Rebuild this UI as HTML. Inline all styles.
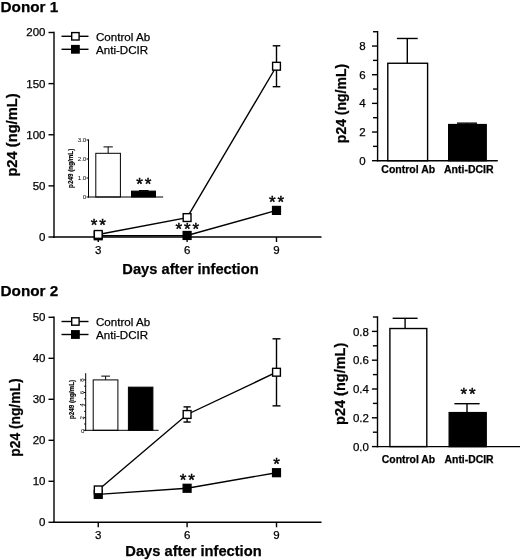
<!DOCTYPE html>
<html><head><meta charset="utf-8"><title>Figure</title>
<style>
html,body{margin:0;padding:0;background:#fff;}
svg{display:block;font-family:"Liberation Sans",sans-serif;fill:#000;}
text.r{stroke:#000;stroke-width:0.25px;}
text.b{font-weight:bold;stroke:#000;stroke-width:0.25px;}
text.s{stroke:#000;stroke-width:0.45px;}
text.t{fill:#000;}
text.tb{font-weight:bold;stroke:#000;stroke-width:0.15px;}
</style></head><body>
<svg width="520" height="560" viewBox="0 0 520 560">
<rect x="0" y="0" width="520" height="560" fill="#fff" stroke="none"/>
<text x="0.5" y="11.6" font-size="15.3" class="b" text-anchor="start">Donor 1</text>
<polyline points="98.25,235.77 187.1,235.47 276.5,210.41" fill="none" stroke="#000" stroke-width="1.4"/>
<polyline points="98.25,234.44 187.1,217.57 276.5,66.24" fill="none" stroke="#000" stroke-width="1.4"/>
<line x1="276.5" y1="86.69" x2="276.5" y2="45.79" stroke="#000" stroke-width="1.4"/>
<line x1="272.7" y1="86.69" x2="280.3" y2="86.69" stroke="#000" stroke-width="1.4"/>
<line x1="272.7" y1="45.79" x2="280.3" y2="45.79" stroke="#000" stroke-width="1.4"/>
<line x1="54" y1="31.8" x2="54" y2="237.7" stroke="#000" stroke-width="1.4"/>
<line x1="53.3" y1="237" x2="321.5" y2="237" stroke="#000" stroke-width="1.4"/>
<line x1="48.5" y1="32.5" x2="54" y2="32.5" stroke="#000" stroke-width="1.4"/>
<text x="45.5" y="36.4" font-size="11.5" class="r" text-anchor="end">200</text>
<line x1="48.5" y1="83.62" x2="54" y2="83.62" stroke="#000" stroke-width="1.4"/>
<text x="45.5" y="87.52" font-size="11.5" class="r" text-anchor="end">150</text>
<line x1="48.5" y1="134.75" x2="54" y2="134.75" stroke="#000" stroke-width="1.4"/>
<text x="45.5" y="138.65" font-size="11.5" class="r" text-anchor="end">100</text>
<line x1="48.5" y1="185.88" x2="54" y2="185.88" stroke="#000" stroke-width="1.4"/>
<text x="45.5" y="189.78" font-size="11.5" class="r" text-anchor="end">50</text>
<line x1="48.5" y1="237.0" x2="54" y2="237.0" stroke="#000" stroke-width="1.4"/>
<text x="45.5" y="240.9" font-size="11.5" class="r" text-anchor="end">0</text>
<line x1="98.25" y1="237" x2="98.25" y2="242" stroke="#000" stroke-width="1.4"/>
<text x="98.25" y="253.7" font-size="11.5" class="r" text-anchor="middle">3</text>
<line x1="187.1" y1="237" x2="187.1" y2="242" stroke="#000" stroke-width="1.4"/>
<text x="187.1" y="253.7" font-size="11.5" class="r" text-anchor="middle">6</text>
<line x1="276.5" y1="237" x2="276.5" y2="242" stroke="#000" stroke-width="1.4"/>
<text x="276.5" y="253.7" font-size="11.5" class="r" text-anchor="middle">9</text>
<text x="99.2" y="231.3" font-size="17" class="s" text-anchor="middle" letter-spacing="1.9">**</text>
<text x="188.35" y="234.5" font-size="17" class="s" text-anchor="middle" letter-spacing="1.9">***</text>
<text x="277.45" y="208.0" font-size="17" class="s" text-anchor="middle" letter-spacing="1.9">**</text>
<rect x="94.35" y="231.87" width="7.8" height="7.8" fill="#000" stroke="#000" stroke-width="1.4"/>
<rect x="183.2" y="231.57" width="7.8" height="7.8" fill="#000" stroke="#000" stroke-width="1.4"/>
<rect x="272.6" y="206.51" width="7.8" height="7.8" fill="#000" stroke="#000" stroke-width="1.4"/>
<rect x="94.35" y="230.54" width="7.8" height="7.8" fill="#fff" stroke="#000" stroke-width="1.4"/>
<rect x="183.2" y="213.67" width="7.8" height="7.8" fill="#fff" stroke="#000" stroke-width="1.4"/>
<rect x="272.6" y="62.34" width="7.8" height="7.8" fill="#fff" stroke="#000" stroke-width="1.4"/>
<line x1="61.5" y1="36.3" x2="88.5" y2="36.3" stroke="#000" stroke-width="1.4"/>
<rect x="71.7" y="32.6" width="7.4" height="7.4" fill="#fff" stroke="#000" stroke-width="1.4"/>
<line x1="61.5" y1="49.3" x2="88.5" y2="49.3" stroke="#000" stroke-width="1.4"/>
<rect x="71.7" y="45.6" width="7.4" height="7.4" fill="#000" stroke="#000" stroke-width="1.4"/>
<text x="96" y="40.5" font-size="11.6" class="r" text-anchor="start">Control Ab</text>
<text x="96" y="53.5" font-size="11.6" class="r" text-anchor="start">Anti-DCIR</text>
<text x="17.2" y="135" font-size="14.7" class="b" text-anchor="middle" transform="rotate(-90 17.2 135)">p24 (ng/mL)</text>
<text x="190.5" y="273.6" font-size="14.7" class="b" text-anchor="middle">Days after infection</text>
<line x1="108.15" y1="153.3" x2="108.15" y2="146.9" stroke="#000" stroke-width="1.0"/>
<line x1="103.5" y1="146.9" x2="112.8" y2="146.9" stroke="#000" stroke-width="1.0"/>
<rect x="95.8" y="153.3" width="24.6" height="43.7" fill="#fff" stroke="#000" stroke-width="1.0"/>
<line x1="143.75" y1="191.11" x2="143.75" y2="190.54" stroke="#000" stroke-width="1.0"/>
<line x1="139" y1="190.54" x2="148.5" y2="190.54" stroke="#000" stroke-width="1.0"/>
<rect x="131.5" y="191.11" width="24.0" height="5.89" fill="#000" stroke="#000" stroke-width="1.0"/>
<line x1="88.5" y1="139.4" x2="88.5" y2="197.5" stroke="#000" stroke-width="1.0"/>
<line x1="88.0" y1="197.0" x2="163.2" y2="197.0" stroke="#000" stroke-width="1.0"/>
<line x1="86.5" y1="140.0" x2="88.5" y2="140.0" stroke="#000" stroke-width="1.0"/>
<text x="86.3" y="142.3" font-size="6.2" class="t" text-anchor="end">3.0</text>
<line x1="86.5" y1="159.0" x2="88.5" y2="159.0" stroke="#000" stroke-width="1.0"/>
<text x="86.3" y="161.3" font-size="6.2" class="t" text-anchor="end">2.0</text>
<line x1="86.5" y1="178.0" x2="88.5" y2="178.0" stroke="#000" stroke-width="1.0"/>
<text x="86.3" y="180.3" font-size="6.2" class="t" text-anchor="end">1.0</text>
<line x1="86.5" y1="197.0" x2="88.5" y2="197.0" stroke="#000" stroke-width="1.0"/>
<text x="86.3" y="199.3" font-size="6.2" class="t" text-anchor="end">0</text>
<text x="144.7" y="189.5" font-size="17" class="s" text-anchor="middle" letter-spacing="1.9">**</text>
<text x="73.3" y="168.3" font-size="6.3" class="tb" text-anchor="middle" transform="rotate(-90 73.3 168.3)">p249 (ng/mL)</text>
<line x1="407.29999999999995" y1="63.26" x2="407.29999999999995" y2="38.47" stroke="#000" stroke-width="1.4"/>
<line x1="396.9" y1="38.47" x2="417.7" y2="38.47" stroke="#000" stroke-width="1.4"/>
<rect x="387.8" y="63.26" width="39.8" height="97.44" fill="#fff" stroke="#000" stroke-width="1.4"/>
<line x1="467.0" y1="124.59" x2="467.0" y2="123.16" stroke="#000" stroke-width="1.4"/>
<line x1="457" y1="123.16" x2="477" y2="123.16" stroke="#000" stroke-width="1.4"/>
<rect x="448.7" y="124.59" width="37.5" height="36.11" fill="#000" stroke="#000" stroke-width="1.4"/>
<line x1="377.6" y1="31.0" x2="377.6" y2="161.39999999999998" stroke="#000" stroke-width="1.4"/>
<line x1="376.90000000000003" y1="160.7" x2="497.8" y2="160.7" stroke="#000" stroke-width="1.4"/>
<line x1="372.0" y1="46.06" x2="377.6" y2="46.06" stroke="#000" stroke-width="1.4"/>
<text x="365.70000000000005" y="50.16" font-size="11.5" class="r" text-anchor="end">8</text>
<line x1="372.0" y1="74.72" x2="377.6" y2="74.72" stroke="#000" stroke-width="1.4"/>
<text x="365.70000000000005" y="78.82" font-size="11.5" class="r" text-anchor="end">6</text>
<line x1="372.0" y1="103.38" x2="377.6" y2="103.38" stroke="#000" stroke-width="1.4"/>
<text x="365.70000000000005" y="107.48" font-size="11.5" class="r" text-anchor="end">4</text>
<line x1="372.0" y1="132.04" x2="377.6" y2="132.04" stroke="#000" stroke-width="1.4"/>
<text x="365.70000000000005" y="136.14" font-size="11.5" class="r" text-anchor="end">2</text>
<line x1="372.0" y1="160.7" x2="377.6" y2="160.7" stroke="#000" stroke-width="1.4"/>
<text x="365.70000000000005" y="164.8" font-size="11.5" class="r" text-anchor="end">0</text>
<line x1="373.0" y1="31.73" x2="377.6" y2="31.73" stroke="#000" stroke-width="1.4"/>
<line x1="373.0" y1="60.39" x2="377.6" y2="60.39" stroke="#000" stroke-width="1.4"/>
<line x1="373.0" y1="89.05" x2="377.6" y2="89.05" stroke="#000" stroke-width="1.4"/>
<line x1="373.0" y1="117.71" x2="377.6" y2="117.71" stroke="#000" stroke-width="1.4"/>
<line x1="373.0" y1="146.37" x2="377.6" y2="146.37" stroke="#000" stroke-width="1.4"/>
<text x="408.3" y="173.4" font-size="10.5" class="b" text-anchor="middle">Control Ab</text>
<text x="468.8" y="173.4" font-size="10.5" class="b" text-anchor="middle">Anti-DCIR</text>
<text x="346.3" y="103.5" font-size="14.0" class="b" text-anchor="middle" transform="rotate(-90 346.3 103.5)">p24 (ng/mL)</text>
<text x="0.5" y="296" font-size="15.3" class="b" text-anchor="start">Donor 2</text>
<polyline points="98.25,494.42 187.1,488.27 276.5,472.69" fill="none" stroke="#000" stroke-width="1.4"/>
<polyline points="98.25,489.91 187.1,414.47 276.5,372.24" fill="none" stroke="#000" stroke-width="1.4"/>
<line x1="187.1" y1="422.05" x2="187.1" y2="406.88" stroke="#000" stroke-width="1.4"/>
<line x1="183.5" y1="422.05" x2="190.7" y2="422.05" stroke="#000" stroke-width="1.4"/>
<line x1="183.5" y1="406.88" x2="190.7" y2="406.88" stroke="#000" stroke-width="1.4"/>
<line x1="276.5" y1="405.86" x2="276.5" y2="338.82" stroke="#000" stroke-width="1.4"/>
<line x1="272.5" y1="405.86" x2="280.5" y2="405.86" stroke="#000" stroke-width="1.4"/>
<line x1="272.5" y1="338.82" x2="280.5" y2="338.82" stroke="#000" stroke-width="1.4"/>
<line x1="54" y1="316.6" x2="54" y2="523.0" stroke="#000" stroke-width="1.4"/>
<line x1="53.3" y1="522.3" x2="321.5" y2="522.3" stroke="#000" stroke-width="1.4"/>
<line x1="48.5" y1="317.3" x2="54" y2="317.3" stroke="#000" stroke-width="1.4"/>
<text x="45.5" y="321.2" font-size="11.5" class="r" text-anchor="end">50</text>
<line x1="48.5" y1="358.3" x2="54" y2="358.3" stroke="#000" stroke-width="1.4"/>
<text x="45.5" y="362.2" font-size="11.5" class="r" text-anchor="end">40</text>
<line x1="48.5" y1="399.3" x2="54" y2="399.3" stroke="#000" stroke-width="1.4"/>
<text x="45.5" y="403.2" font-size="11.5" class="r" text-anchor="end">30</text>
<line x1="48.5" y1="440.3" x2="54" y2="440.3" stroke="#000" stroke-width="1.4"/>
<text x="45.5" y="444.2" font-size="11.5" class="r" text-anchor="end">20</text>
<line x1="48.5" y1="481.3" x2="54" y2="481.3" stroke="#000" stroke-width="1.4"/>
<text x="45.5" y="485.2" font-size="11.5" class="r" text-anchor="end">10</text>
<line x1="48.5" y1="522.3" x2="54" y2="522.3" stroke="#000" stroke-width="1.4"/>
<text x="45.5" y="526.2" font-size="11.5" class="r" text-anchor="end">0</text>
<line x1="98.25" y1="522.3" x2="98.25" y2="527.3" stroke="#000" stroke-width="1.4"/>
<text x="98.25" y="538.6" font-size="11.5" class="r" text-anchor="middle">3</text>
<line x1="187.1" y1="522.3" x2="187.1" y2="527.3" stroke="#000" stroke-width="1.4"/>
<text x="187.1" y="538.6" font-size="11.5" class="r" text-anchor="middle">6</text>
<line x1="276.5" y1="522.3" x2="276.5" y2="527.3" stroke="#000" stroke-width="1.4"/>
<text x="276.5" y="538.6" font-size="11.5" class="r" text-anchor="middle">9</text>
<text x="188.35" y="485.8" font-size="17" class="s" text-anchor="middle" letter-spacing="1.9">**</text>
<text x="277.45" y="470.2" font-size="17" class="s" text-anchor="middle" letter-spacing="1.9">*</text>
<rect x="94.35" y="490.52" width="7.8" height="7.8" fill="#000" stroke="#000" stroke-width="1.4"/>
<rect x="183.2" y="484.37" width="7.8" height="7.8" fill="#000" stroke="#000" stroke-width="1.4"/>
<rect x="272.6" y="468.79" width="7.8" height="7.8" fill="#000" stroke="#000" stroke-width="1.4"/>
<rect x="94.35" y="486.01" width="7.8" height="7.8" fill="#fff" stroke="#000" stroke-width="1.4"/>
<rect x="183.2" y="410.57" width="7.8" height="7.8" fill="#fff" stroke="#000" stroke-width="1.4"/>
<rect x="272.6" y="368.34" width="7.8" height="7.8" fill="#fff" stroke="#000" stroke-width="1.4"/>
<line x1="61.5" y1="321.5" x2="88.5" y2="321.5" stroke="#000" stroke-width="1.4"/>
<rect x="71.7" y="317.8" width="7.4" height="7.4" fill="#fff" stroke="#000" stroke-width="1.4"/>
<line x1="61.5" y1="334.5" x2="88.5" y2="334.5" stroke="#000" stroke-width="1.4"/>
<rect x="71.7" y="330.8" width="7.4" height="7.4" fill="#000" stroke="#000" stroke-width="1.4"/>
<text x="96" y="325.7" font-size="11.6" class="r" text-anchor="start">Control Ab</text>
<text x="96" y="338.7" font-size="11.6" class="r" text-anchor="start">Anti-DCIR</text>
<text x="20.2" y="417.6" font-size="13.8" class="b" text-anchor="middle" transform="rotate(-90 20.2 417.6)">p24 (ng/mL)</text>
<text x="193.5" y="556.4" font-size="14.7" class="b" text-anchor="middle">Days after infection</text>
<line x1="105.625" y1="379.9" x2="105.625" y2="376.12" stroke="#000" stroke-width="1.0"/>
<line x1="101.25" y1="376.12" x2="110" y2="376.12" stroke="#000" stroke-width="1.0"/>
<rect x="93.2" y="379.9" width="24.7" height="50.4" fill="#fff" stroke="#000" stroke-width="1.0"/>
<rect x="128.4" y="387.15" width="24.5" height="43.15" fill="#000" stroke="#000" stroke-width="1.0"/>
<line x1="85.7" y1="373.2" x2="85.7" y2="430.8" stroke="#000" stroke-width="1.0"/>
<line x1="85.2" y1="430.3" x2="158.6" y2="430.3" stroke="#000" stroke-width="1.0"/>
<line x1="83.7" y1="379.9" x2="85.7" y2="379.9" stroke="#000" stroke-width="1.0"/>
<text x="84.2" y="379.9" font-size="6.2" class="t" text-anchor="middle" transform="rotate(-90 84.2 379.9)">8</text>
<line x1="83.7" y1="392.5" x2="85.7" y2="392.5" stroke="#000" stroke-width="1.0"/>
<text x="84.2" y="392.5" font-size="6.2" class="t" text-anchor="middle" transform="rotate(-90 84.2 392.5)">6</text>
<line x1="83.7" y1="405.1" x2="85.7" y2="405.1" stroke="#000" stroke-width="1.0"/>
<text x="84.2" y="405.1" font-size="6.2" class="t" text-anchor="middle" transform="rotate(-90 84.2 405.1)">4</text>
<line x1="83.7" y1="417.7" x2="85.7" y2="417.7" stroke="#000" stroke-width="1.0"/>
<text x="84.2" y="417.7" font-size="6.2" class="t" text-anchor="middle" transform="rotate(-90 84.2 417.7)">2</text>
<line x1="83.7" y1="430.3" x2="85.7" y2="430.3" stroke="#000" stroke-width="1.0"/>
<text x="84.4" y="432.6" font-size="6.2" class="t" text-anchor="end">0</text>
<line x1="84.2" y1="386.2" x2="85.7" y2="386.2" stroke="#000" stroke-width="1.0"/>
<line x1="84.2" y1="398.8" x2="85.7" y2="398.8" stroke="#000" stroke-width="1.0"/>
<line x1="84.2" y1="411.4" x2="85.7" y2="411.4" stroke="#000" stroke-width="1.0"/>
<line x1="84.2" y1="424.0" x2="85.7" y2="424.0" stroke="#000" stroke-width="1.0"/>
<text x="74" y="399.5" font-size="6.3" class="tb" text-anchor="middle" transform="rotate(-90 74 399.5)">p249 (ng/mL)</text>
<line x1="405.1" y1="328.52" x2="405.1" y2="318.3" stroke="#000" stroke-width="1.4"/>
<line x1="392.6" y1="318.3" x2="417.6" y2="318.3" stroke="#000" stroke-width="1.4"/>
<rect x="389.9" y="328.52" width="36.9" height="118.08" fill="#fff" stroke="#000" stroke-width="1.4"/>
<line x1="467.0" y1="412.62" x2="467.0" y2="403.69" stroke="#000" stroke-width="1.4"/>
<line x1="454.4" y1="403.69" x2="479.6" y2="403.69" stroke="#000" stroke-width="1.4"/>
<rect x="449.2" y="412.62" width="37.0" height="33.98" fill="#000" stroke="#000" stroke-width="1.4"/>
<line x1="377.5" y1="316.3" x2="377.5" y2="447.3" stroke="#000" stroke-width="1.4"/>
<line x1="376.8" y1="446.6" x2="520" y2="446.6" stroke="#000" stroke-width="1.4"/>
<line x1="371.9" y1="331.4" x2="377.5" y2="331.4" stroke="#000" stroke-width="1.4"/>
<text x="368.9" y="335.5" font-size="11.5" class="r" text-anchor="end">0.8</text>
<line x1="371.9" y1="360.2" x2="377.5" y2="360.2" stroke="#000" stroke-width="1.4"/>
<text x="368.9" y="364.3" font-size="11.5" class="r" text-anchor="end">0.6</text>
<line x1="371.9" y1="389.0" x2="377.5" y2="389.0" stroke="#000" stroke-width="1.4"/>
<text x="368.9" y="393.1" font-size="11.5" class="r" text-anchor="end">0.4</text>
<line x1="371.9" y1="417.8" x2="377.5" y2="417.8" stroke="#000" stroke-width="1.4"/>
<text x="368.9" y="421.9" font-size="11.5" class="r" text-anchor="end">0.2</text>
<line x1="371.9" y1="446.6" x2="377.5" y2="446.6" stroke="#000" stroke-width="1.4"/>
<text x="368.9" y="450.7" font-size="11.5" class="r" text-anchor="end">0.0</text>
<line x1="372.9" y1="317.0" x2="377.5" y2="317.0" stroke="#000" stroke-width="1.4"/>
<line x1="372.9" y1="345.8" x2="377.5" y2="345.8" stroke="#000" stroke-width="1.4"/>
<line x1="372.9" y1="374.6" x2="377.5" y2="374.6" stroke="#000" stroke-width="1.4"/>
<line x1="372.9" y1="403.4" x2="377.5" y2="403.4" stroke="#000" stroke-width="1.4"/>
<line x1="372.9" y1="432.2" x2="377.5" y2="432.2" stroke="#000" stroke-width="1.4"/>
<text x="468.95" y="400.0" font-size="17" class="s" text-anchor="middle" letter-spacing="1.9">**</text>
<text x="408.5" y="463.0" font-size="10.4" class="b" text-anchor="middle">Control Ab</text>
<text x="469.1" y="463.0" font-size="10.4" class="b" text-anchor="middle">Anti-DCIR</text>
<text x="345.0" y="383.8" font-size="14.5" class="b" text-anchor="middle" transform="rotate(-90 345.0 383.8)">p24 (ng/mL)</text>
</svg>
</body></html>
